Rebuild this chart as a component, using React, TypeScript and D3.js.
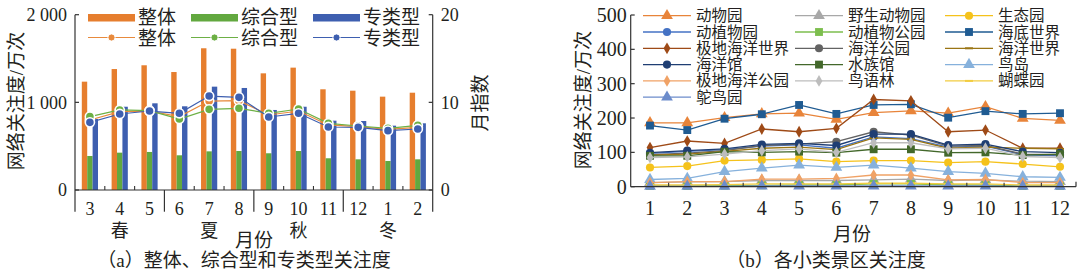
import React from 'react';
import * as d3 from 'd3';

// ---------- Chart (a) data ----------
const monthsA = ['3', '4', '5', '6', '7', '8', '9', '10', '11', '12', '1', '2'];
const seasons = ['春', '夏', '秋', '冬'];
const overallBar = [1236, 1380, 1423, 1346, 1617, 1612, 1331, 1396, 1149, 1133, 1065, 1110];
const compBar = [388, 426, 434, 396, 441, 445, 419, 445, 362, 350, 331, 350];
const specBar = [810, 950, 989, 955, 1179, 1164, 913, 950, 791, 787, 734, 761];
const overallIdx = [7.99, 8.94, 9.0, 8.37, 10.15, 10.19, 8.56, 9.01, 7.42, 7.22, 6.92, 7.15];
const compIdx = [8.37, 9.13, 9.05, 8.1, 9.2, 9.32, 8.75, 9.24, 7.6, 7.3, 7.04, 7.38];
const specIdx = [7.72, 8.67, 9.01, 8.75, 10.72, 10.57, 8.33, 8.75, 7.19, 7.15, 6.77, 6.96];
const leftTicksA = [0, 1000, 2000];
const leftTickLabelsA = ['0', '1 000', '2 000'];
const rightTicksA = [0, 10, 20];

// ---------- Chart (b) data ----------
const monthsB = ['1', '2', '3', '4', '5', '6', '7', '8', '9', '10', '11', '12'];
const ticksB = [0, 100, 200, 300, 400, 500];
const zoo = [186, 186, 201, 212, 214, 196, 216, 221, 214, 233, 199, 193];
const wildZoo = [12, 14, 15, 18, 18, 18, 20, 22, 18, 20, 16, 15];
const ecoPark = [56, 60, 76, 78, 81, 73, 76, 76, 70, 73, 66, 58];
const zooBotanical = [97, 103, 108, 118, 122, 112, 145, 140, 115, 118, 93, 90];
const zooBotanicalPark = [2, 2, 3, 4, 5, 5, 8, 8, 5, 5, 2, 2];
const underwaterWorld = [178, 165, 198, 211, 238, 212, 238, 240, 201, 220, 212, 214];
const polarOceanWorld = [114, 133, 126, 168, 160, 170, 254, 250, 160, 165, 112, 112];
const oceanPark = [93, 98, 105, 120, 124, 131, 160, 150, 118, 120, 95, 93];
const oceanWorld = [92, 95, 103, 112, 115, 108, 142, 138, 112, 115, 112, 110];
const oceanHall = [99, 105, 110, 123, 126, 120, 153, 153, 121, 124, 102, 99];
const aquarium = [90, 90, 102, 100, 102, 99, 109, 109, 99, 100, 92, 95];
const birdIsland = [21, 24, 44, 54, 63, 56, 63, 54, 44, 39, 29, 27];
const polarOceanPark = [12, 15, 15, 22, 22, 24, 34, 34, 20, 21, 12, 12];
const birdForest = [85, 87, 95, 105, 110, 100, 128, 128, 110, 112, 88, 85];
const butterfly = [5, 5, 6, 8, 8, 8, 10, 10, 8, 8, 5, 5];
const ostrich = [1, 1, 1, 2, 2, 2, 2, 2, 2, 2, 1, 1];

const seriesNames = ['动物园', '野生动物园', '生态园', '动植物园', '动植物公园', '海底世界', '极地海洋世界', '海洋公园', '海洋世界', '海洋馆', '水族馆', '鸟岛', '极地海洋公园', '鸟语林', '蝴蝶园', '鸵鸟园'];
const seriesValues = [zoo, wildZoo, ecoPark, zooBotanical, zooBotanicalPark, underwaterWorld, polarOceanWorld, oceanPark, oceanWorld, oceanHall, aquarium, birdIsland, polarOceanPark, birdForest, butterfly, ostrich];
const seriesColors = ['#E8843A', '#A8A8A8', '#F5C21B', '#4472C4', '#7DBE4E', '#1F5B92', '#9E4A17', '#636363', '#9A7514', '#1F3E73', '#43682B', '#86B1DC', '#F0A266', '#BDBDBD', '#F2CC40', '#6C8CCB'];
const seriesMarkers = ['triangle', 'triangle', 'circle', 'circle', 'square', 'square', 'diamond', 'circle', 'dash', 'circle', 'square', 'triangle', 'diamond', 'diamond', 'dash', 'triangle'];

const FONT = "'Liberation Serif', 'Times New Roman', 'Noto Sans CJK SC', serif";
const TXT = '#231F20';
const AX = '#333';

const symbolPath = (type: string, size: number) => {
  const t = type === 'triangle' ? d3.symbolTriangle : type === 'square' ? d3.symbolSquare : type === 'diamond' ? d3.symbolDiamond : d3.symbolCircle;
  return d3.symbol().type(t).size(size)() as string;
};

function Marker({ type, x, y, color }: { type: string; x: number; y: number; color: string }) {
  if (type === 'dash') {
    return <line x1={x - 4} x2={x + 4} y1={y} y2={y} stroke={color} strokeWidth={2} />;
  }
  const size = type === 'triangle' ? 60 : type === 'square' ? 62 : type === 'diamond' ? 40 : 52;
  return <path d={symbolPath(type, size)} transform={`translate(${x},${y})`} fill={color} stroke="none" />;
}

function ChartA() {
  const xA = d3.scaleBand<string>().domain(monthsA).range([75, 432.7]);
  const yA = d3.scaleLinear().domain([0, 2000]).range([190, 14.7]);
  const yA2 = d3.scaleLinear().domain([0, 20]).range([190, 14.7]);
  const bw = xA.bandwidth();
  const cx = (m: string) => (xA(m) as number) + bw / 2;
  const barW = 5.4;
  const bars = [
    { vals: overallBar, color: '#E67E2E', off: -1.5 * barW },
    { vals: compBar, color: '#62A83F', off: -0.5 * barW },
    { vals: specBar, color: '#3E5FB0', off: 0.5 * barW },
  ];
  const lines = [
    { vals: overallIdx, color: '#E88A3C' },
    { vals: compIdx, color: '#6DB045' },
    { vals: specIdx, color: '#3E5FB0' },
  ];
  const lineGen = (vals: number[]) =>
    d3.line<number>().x((_, i) => cx(monthsA[i])).y((d) => yA2(d))(vals) as string;
  const x0 = 75, x1 = 432.7, yb = 190, ybot = 211.7;
  return (
    <g fontFamily={FONT} fill={TXT}>
      {bars.map((b, bi) =>
        b.vals.map((v, i) => (
          <rect key={`b${bi}-${i}`} x={cx(monthsA[i]) + b.off} y={yA(v)} width={barW} height={yb - yA(v)} fill={b.color} />
        ))
      )}
      {lines.map((l, li) => (
        <g key={`l${li}`}>
          <path d={lineGen(l.vals)} fill="none" stroke={l.color} strokeWidth={1.2} />
          {l.vals.map((v, i) => (
            <circle key={i} cx={cx(monthsA[i])} cy={yA2(v)} r={4.6} fill={l.color} stroke="#fff" strokeWidth={1.6} />
          ))}
        </g>
      ))}
      {/* axes */}
      <line x1={x0} x2={x0} y1={yA(2000)} y2={ybot} stroke={AX} strokeWidth={1.2} />
      <line x1={x1} x2={x1} y1={yA(2000)} y2={ybot} stroke={AX} strokeWidth={1.2} />
      <line x1={x0} x2={x1} y1={yb} y2={yb} stroke={AX} strokeWidth={1.2} />
      {leftTicksA.map((t, i) => (
        <g key={`lt${i}`}>
          <line x1={x0} x2={x0 + 4} y1={yA(t)} y2={yA(t)} stroke={AX} strokeWidth={1.2} />
          <text x={x0 - 8} y={yA(t)} dy="0.35em" textAnchor="end" fontSize={18}>{leftTickLabelsA[i]}</text>
        </g>
      ))}
      {rightTicksA.map((t, i) => (
        <g key={`rt${i}`}>
          <line x1={x1} x2={x1 - 4} y1={yA2(t)} y2={yA2(t)} stroke={AX} strokeWidth={1.2} />
          <text x={x1 + 8} y={yA2(t)} dy="0.35em" textAnchor="start" fontSize={18}>{String(t)}</text>
        </g>
      ))}
      {monthsA.map((m, i) => (
        <g key={`m${i}`}>
          {i > 0 && i % 3 !== 0 && (
            <line x1={xA(m) as number} x2={xA(m) as number} y1={yb} y2={yb - 4} stroke={AX} strokeWidth={1.1} />
          )}
          {i > 0 && i % 3 === 0 && (
            <line x1={xA(m) as number} x2={xA(m) as number} y1={yb} y2={ybot} stroke={AX} strokeWidth={1.2} />
          )}
          <text x={cx(m)} y={215} textAnchor="middle" fontSize={18}>{m}</text>
        </g>
      ))}
      {seasons.map((s, k) => (
        <text key={s} x={(xA(monthsA[k * 3]) as number) + 1.5 * bw} y={237} textAnchor="middle" fontSize={18}>{s}</text>
      ))}
      <text x={254} y={247} textAnchor="middle" fontSize={19}>月份</text>
      <text x={244} y={267} textAnchor="middle" fontSize={19}>（a）整体、综合型和专类型关注度</text>
      <text transform="translate(23,101) rotate(-90)" textAnchor="middle" fontSize={19}>网络关注度/万次</text>
      <text transform="translate(487,103) rotate(-90)" textAnchor="middle" fontSize={19}>月指数</text>
      {/* legend */}
      {[
        { name: '整体', color: '#E67E2E', lc: '#E88A3C', x: 88 },
        { name: '综合型', color: '#62A83F', lc: '#6DB045', x: 191 },
        { name: '专类型', color: '#3E5FB0', lc: '#3E5FB0', x: 313 },
      ].map((l) => (
        <g key={l.name}>
          <rect x={l.x} y={14} width={47} height={7.5} fill={l.color} />
          <text x={l.x + 50} y={17.5} dy="0.35em" fontSize={19}>{l.name}</text>
          <line x1={l.x} x2={l.x + 47} y1={37.5} y2={37.5} stroke={l.lc} strokeWidth={1.2} />
          <circle cx={l.x + 23.5} cy={37.5} r={3.6} fill={l.lc} stroke="#fff" strokeWidth={1} />
          <text x={l.x + 50} y={38} dy="0.35em" fontSize={19}>{l.name}</text>
        </g>
      ))}
    </g>
  );
}

function ChartB() {
  const xB = d3.scalePoint<string>().domain(monthsB).range([650, 1060]);
  const yB = d3.scaleLinear().domain([0, 500]).range([186.7, 15]);
  const x0 = 630.7, x1 = 1076, yb = 186.7;
  const step = xB.step();
  const lineGen = (vals: number[]) =>
    d3.line<number>().x((_, i) => xB(monthsB[i]) as number).y((d) => yB(d))(vals) as string;
  const colX = [643, 795, 945];
  const rowY = [15.7, 32, 48.3, 64.6, 80.9, 97.2];
  return (
    <g fontFamily={FONT} fill={TXT}>
      {seriesValues.map((vals, si) => (
        <g key={`s${si}`}>
          <path d={lineGen(vals)} fill="none" stroke={seriesColors[si]} strokeWidth={1.3} />
          {vals.map((v, i) => (
            <Marker key={i} type={seriesMarkers[si]} x={xB(monthsB[i]) as number} y={yB(v)} color={seriesColors[si]} />
          ))}
        </g>
      ))}
      <line x1={x0} x2={x0} y1={yB(500)} y2={yb} stroke={AX} strokeWidth={1.2} />
      <line x1={x0} x2={x1} y1={yb} y2={yb} stroke={AX} strokeWidth={1.2} />
      <line x1={x1} x2={x1} y1={yb} y2={yb - 5} stroke={AX} strokeWidth={1.2} />
      {ticksB.map((t) => (
        <g key={`t${t}`}>
          <line x1={x0} x2={x0 + 4} y1={yB(t)} y2={yB(t)} stroke={AX} strokeWidth={1.2} />
          <text x={x0 - 4} y={yB(t)} dy="0.35em" textAnchor="end" fontSize={20}>{String(t)}</text>
        </g>
      ))}
      {monthsB.map((m, i) => (
        <g key={`m${m}`}>
          {i < monthsB.length - 1 && (
            <line x1={(xB(m) as number) + step / 2} x2={(xB(m) as number) + step / 2} y1={yb} y2={yb - 4} stroke={AX} strokeWidth={1.1} />
          )}
          <text x={xB(m) as number} y={215} textAnchor="middle" fontSize={20}>{m}</text>
        </g>
      ))}
      <text x={852} y={241} textAnchor="middle" fontSize={19}>月份</text>
      <text x={826} y={267} textAnchor="middle" fontSize={19}>（b）各小类景区关注度</text>
      <text transform="translate(590,100) rotate(-90)" textAnchor="middle" fontSize={19}>网络关注度/万次</text>
      {seriesNames.map((n, si) => {
        const col = si % 3;
        const row = Math.floor(si / 3);
        const lx = colX[col];
        const ly = rowY[row];
        return (
          <g key={`lg${si}`}>
            <line x1={lx} x2={lx + 48} y1={ly} y2={ly} stroke={seriesColors[si]} strokeWidth={1.3} />
            <Marker type={seriesMarkers[si]} x={lx + 24} y={ly} color={seriesColors[si]} />
            <text x={lx + 53} y={ly} dy="0.36em" fontSize={15.5}>{n}</text>
          </g>
        );
      })}
    </g>
  );
}

export default function App() {
  return (
    <svg width={1080} height={274} viewBox="0 0 1080 274" style={{ position: 'absolute', left: 0, top: 0, background: '#fff' }}>
      <rect x={0} y={0} width={1080} height={274} fill="#fff" />
      <ChartA />
      <ChartB />
    </svg>
  );
}
